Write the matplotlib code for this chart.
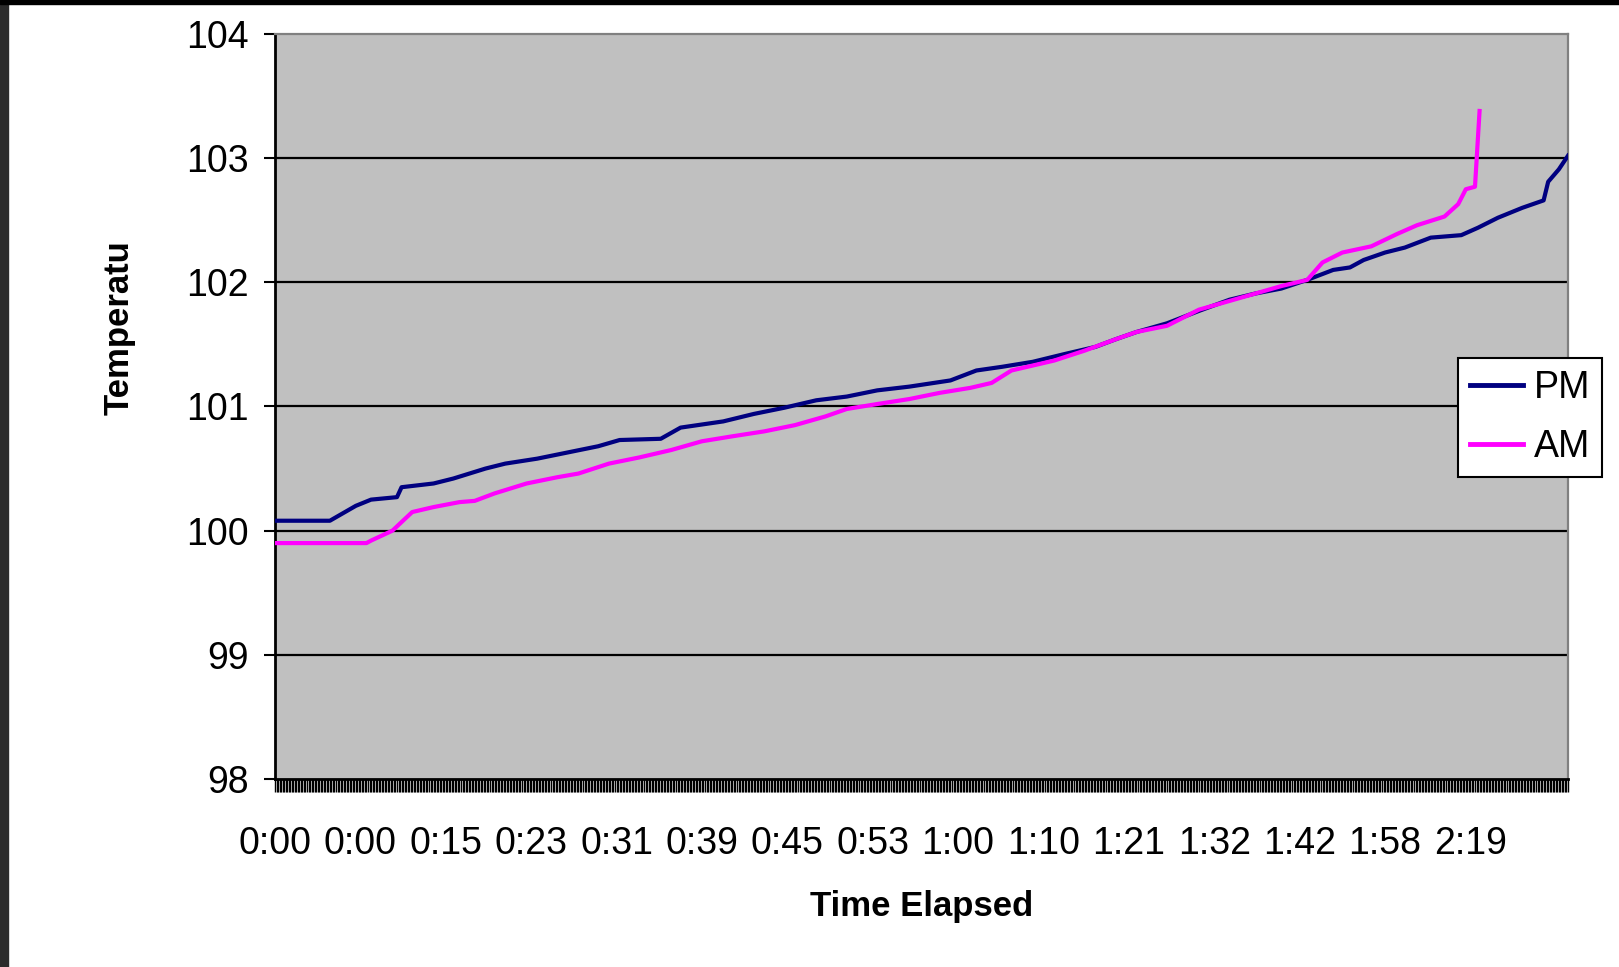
import numpy as np
import matplotlib.pyplot as plt
from matplotlib.patches import Rectangle

plt.rcParams['font.family'] = ['Liberation Sans', 'DejaVu Sans']

# category index (0..848) and temperature
pm_idx = [0, 36, 53, 63, 80, 83, 104, 117, 138, 151, 172, 192, 212, 226, 253, 266,
          294, 314, 334, 355, 375, 395, 416, 443, 460, 477, 497, 517, 538, 551, 565,
          585, 606, 626, 643, 660, 677, 694, 705, 714, 728, 741, 758, 778, 789, 802,
          818, 832, 835, 842, 848]
pm_val = [100.08, 100.08, 100.2, 100.25, 100.27, 100.35, 100.38, 100.42, 100.5, 100.54,
          100.58, 100.63, 100.68, 100.73, 100.74, 100.83, 100.88, 100.94, 100.99, 101.05,
          101.08, 101.13, 101.16, 101.21, 101.29, 101.32, 101.36, 101.42, 101.48, 101.54,
          101.6, 101.67, 101.77, 101.86, 101.91, 101.95, 102.02, 102.1, 102.12, 102.18,
          102.24, 102.28, 102.36, 102.38, 102.44, 102.52, 102.6, 102.66, 102.81, 102.91,
          103.02]

am_idx = [0, 60, 63, 77, 90, 104, 121, 131, 144, 165, 185, 199, 219, 239, 260, 280, 300,
          321, 341, 361, 375, 395, 416, 436, 456, 470, 483, 497, 511, 531, 551, 565, 585,
          606, 626, 643, 660, 677, 687, 700, 719, 736, 749, 767, 776, 781, 787, 790]
am_val = [99.9, 99.9, 99.92, 100.0, 100.15, 100.19, 100.23, 100.24, 100.3, 100.38, 100.43,
          100.46, 100.54, 100.59, 100.65, 100.72, 100.76, 100.8, 100.85, 100.92, 100.98,
          101.02, 101.06, 101.11, 101.15, 101.19, 101.29, 101.33, 101.37, 101.45, 101.54,
          101.6, 101.65, 101.78, 101.85, 101.91, 101.97, 102.02, 102.16, 102.24, 102.29,
          102.39, 102.46, 102.53, 102.63, 102.75, 102.77, 103.38]

n_cat = 849
label_step = 56
tick_labels = ["0:00", "0:00", "0:15", "0:23", "0:31", "0:39", "0:45", "0:53",
               "1:00", "1:10", "1:21", "1:32", "1:42", "1:58", "2:19"]

fig = plt.figure(figsize=(16.19, 9.67), dpi=100)
ax = fig.add_axes([275 / 1619, 1 - 779 / 967, (1568 - 275) / 1619, (779 - 34) / 967])
ax.set_facecolor("#c0c0c0")

ax.plot(pm_idx, pm_val, color="#000080", lw=3.0, label="PM", zorder=3)
ax.plot(am_idx, am_val, color="#ff00ff", lw=3.0, label="AM", zorder=3)

ax.set_xlim(0, n_cat - 1)
ax.set_ylim(98, 104)
ax.set_yticks(range(98, 105))
for y in range(99, 104):
    ax.axhline(y, color="black", lw=1.6, zorder=1)

ax.set_xticks([i * label_step for i in range(len(tick_labels))])
ax.set_xticklabels(tick_labels)
ax.set_xticks(np.arange(0, n_cat, 1), minor=True)
ax.tick_params(axis="x", which="both", direction="out", length=9.5, width=1.0,
               color="black")
ax.tick_params(axis="x", which="major", labelsize=27, pad=24)
ax.tick_params(axis="y", direction="out", length=8, width=1.5, labelsize=27, pad=11)

for s in ["left", "bottom"]:
    ax.spines[s].set_color("black")
    ax.spines[s].set_linewidth(2)
for s in ["top", "right"]:
    ax.spines[s].set_color("#808080")
    ax.spines[s].set_linewidth(1.6)

fig.text(0.0735, 0.661, "Temperatu", rotation=90, ha="center", va="center",
         fontsize=25, fontweight="bold")
fig.text(0.5695, 0.063, "Time Elapsed", ha="center", va="center",
         fontsize=25, fontweight="bold")

leg = fig.legend(loc="upper left", bbox_to_anchor=(1458 / 1619, 1 - 358 / 967),
                 fontsize=27, frameon=True, fancybox=False, handlelength=1.4,
                 borderpad=0.32, labelspacing=0.62, handletextpad=0.3,
                 borderaxespad=0)
leg.get_frame().set_edgecolor("black")
leg.get_frame().set_linewidth(1.5)
leg.get_frame().set_alpha(1)
for h in leg.get_lines():
    h.set_linewidth(3.5)

# dark frame at the left and top edges
fig.patches.append(Rectangle((0, 0), 8 / 1619, 1, transform=fig.transFigure,
                             color="#2b2b2b", zorder=0))
fig.patches.append(Rectangle((0, 1 - 4 / 967), 1, 4 / 967, transform=fig.transFigure,
                             color="black", zorder=0))

fig.savefig("out.png", dpi=100)
